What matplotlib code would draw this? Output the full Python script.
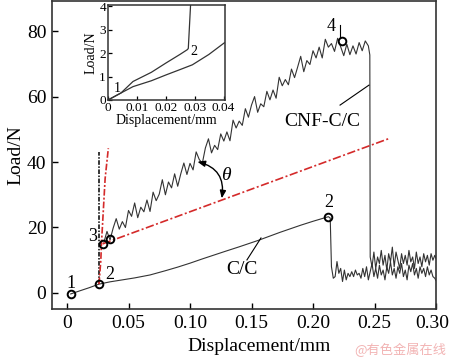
import matplotlib
matplotlib.use("Agg")
import matplotlib.pyplot as plt
import matplotlib.transforms as mtransforms

plt.rcParams["font.family"] = ["Liberation Serif", "DejaVu Serif"]

# C/C curve (rising part, then failure and residual noise)
cc_x = [0.003, 0.010, 0.018, 0.026, 0.035, 0.045, 0.055, 0.0675, 0.080, 0.090,
        0.100, 0.110, 0.1285, 0.140, 0.155, 0.173, 0.190, 0.200, 0.2125, 0.2140,
        0.2150, 0.2165, 0.2180, 0.2195, 0.2210, 0.2225, 0.2240, 0.2255, 0.2270, 0.2285,
        0.2300, 0.2315, 0.2330, 0.2345, 0.2360, 0.2375, 0.2390, 0.2405, 0.2420, 0.2435,
        0.2450, 0.2465, 0.2480, 0.2495, 0.2510, 0.2525, 0.2540, 0.2555, 0.2570, 0.2585,
        0.2600, 0.2615, 0.2630, 0.2645, 0.2660, 0.2675, 0.2690, 0.2705, 0.2720, 0.2735,
        0.2750, 0.2765, 0.2780, 0.2795, 0.2810, 0.2825, 0.2840, 0.2855, 0.2870, 0.2885,
        0.2900, 0.2915, 0.2930, 0.2945, 0.2960, 0.2975, 0.2990, 0.3000]
cc_y = [-0.3, 0.6, 1.6, 2.7, 3.4, 4.0, 4.6, 5.5, 6.8, 7.9,
        9.1, 10.4, 12.7, 14.1, 16.0, 18.5, 20.7, 21.9, 23.3, 22.9,
        8.0, 4.5, 5.0, 9.6, 6.0, 7.5, 3.5, 7.0, 4.0, 6.0,
        5.0, 6.5, 5.0, 7.0, 5.5, 6.0, 4.5, 7.5, 5.0, 8.0,
        4.0, 6.5, 9.0, 5.0, 7.5, 4.5, 8.5, 5.5, 7.0, 4.0,
        8.0, 6.0, 9.5, 5.5, 7.5, 4.5, 8.0, 6.0, 9.0, 5.0,
        7.0, 4.0, 8.5, 6.5, 9.0, 5.5, 7.5, 4.5, 8.0, 6.0,
        7.5, 5.0, 8.0, 5.5, 7.0, 5.0, 4.5, 3.8]

# CNF-C/C curve (noisy rise after the jump, failure and residual noise)
cnf_x = [0.0300, 0.0325, 0.0350, 0.0375, 0.0400, 0.0425, 0.0450, 0.0475, 0.0500, 0.0525,
         0.0550, 0.0575, 0.0600, 0.0625, 0.0650, 0.0675, 0.0700, 0.0725, 0.0750, 0.0775,
         0.0800, 0.0825, 0.0850, 0.0875, 0.0900, 0.0925, 0.0950, 0.0975, 0.1000, 0.1025,
         0.1050, 0.1075, 0.1100, 0.1125, 0.1150, 0.1175, 0.1200, 0.1225, 0.1250, 0.1275,
         0.1300, 0.1325, 0.1350, 0.1375, 0.1400, 0.1425, 0.1450, 0.1475, 0.1500, 0.1525,
         0.1550, 0.1575, 0.1600, 0.1625, 0.1650, 0.1675, 0.1700, 0.1725, 0.1750, 0.1775,
         0.1800, 0.1825, 0.1850, 0.1875, 0.1900, 0.1925, 0.1950, 0.1975, 0.2000, 0.2025,
         0.2050, 0.2075, 0.2100, 0.2125, 0.2150, 0.2175, 0.2200, 0.2225, 0.2250, 0.2275,
         0.2300, 0.2325, 0.2350, 0.2375, 0.2400, 0.2425, 0.2450, 0.2462, 0.2465, 0.2480,
         0.2495, 0.2510, 0.2525, 0.2540, 0.2555, 0.2570, 0.2585, 0.2600, 0.2615, 0.2630,
         0.2645, 0.2660, 0.2675, 0.2690, 0.2705, 0.2720, 0.2735, 0.2750, 0.2765, 0.2780,
         0.2795, 0.2810, 0.2825, 0.2840, 0.2855, 0.2870, 0.2885, 0.2900, 0.2915, 0.2930,
         0.2945, 0.2960, 0.2975, 0.2990, 0.3000]
cnf_y = [15.5, 18.8, 16.2, 19.8, 22.7, 19.5, 21.8, 20.0, 25.2, 23.4,
         27.5, 23.0, 26.2, 24.8, 28.4, 24.9, 30.8, 28.2, 30.2, 34.6,
         30.0, 33.9, 32.1, 36.4, 32.6, 36.4, 39.7, 36.2, 39.6, 37.6,
         43.1, 40.8, 39.6, 44.3, 47.1, 42.8, 45.1, 43.8, 48.6, 46.4,
         49.2, 46.5, 52.8, 50.4, 52.5, 51.2, 56.3, 53.7, 57.4, 60.0,
         55.2, 57.8, 56.9, 61.6, 59.0, 62.0, 59.5, 65.9, 63.3, 65.2,
         63.6, 68.4, 65.8, 69.0, 72.3, 67.6, 71.0, 69.8, 74.0, 71.8,
         75.1, 71.8, 77.5, 75.1, 76.2, 73.8, 77.8, 75.2, 72.5, 76.0,
         72.8, 75.5, 73.0, 76.5, 74.0, 77.0, 75.5, 72.7, 11.0, 8.0,
         12.5, 7.5, 11.0, 9.0, 13.0, 8.5, 11.5, 7.0, 12.0, 9.5,
         14.0, 8.0, 12.5, 10.0, 7.5, 12.0, 9.0, 11.5, 8.5, 13.0,
         9.5, 11.0, 7.5, 12.5, 9.0, 11.0, 8.0, 12.0, 9.5, 11.5,
         8.5, 12.0, 10.0, 11.5, 10.5]

# construction lines
black_vert_x = [0.026, 0.026]
black_vert_y = [2.7, 43.0]
red_vert_x = [0.026, 0.0275, 0.028, 0.0295, 0.031, 0.0336]
red_vert_y = [2.7, 10.0, 15.0, 25.0, 35.0, 44.2]
red_slope_x = [0.029, 0.262]
red_slope_y = [15.0, 47.2]

# marked points
mark_x = [0.003, 0.026, 0.029, 0.035, 0.2233, 0.2125]
mark_y = [-0.4, 2.7, 15.0, 16.4, 77.0, 23.3]

# inset curves
in_cnf_x = [0.0, 0.0045, 0.00866, 0.0150, 0.0201, 0.0250, 0.0275, 0.0278, 0.0286]
in_cnf_y = [0.0, 0.30, 0.79, 1.18, 1.58, 1.95, 2.15, 2.20, 4.10]
in_cc_x = [0.0, 0.0045, 0.00866, 0.0150, 0.0201, 0.0250, 0.0292, 0.0349, 0.0403]
in_cc_y = [0.0, 0.30, 0.57, 0.82, 1.07, 1.30, 1.50, 1.94, 2.44]

fig = plt.figure(figsize=(4.5, 3.57), dpi=100)
ax = fig.add_axes([52 / 450, 48 / 357, 384 / 450, 308 / 357])

ax.plot(cc_x, cc_y, color="#333333", lw=0.8)
ax.plot(cnf_x, cnf_y, color="#333333", lw=0.8)
ax.plot(black_vert_x, black_vert_y, color="black", lw=1.1, dashes=(3, 1, 1, 1))
ax.plot(red_vert_x, red_vert_y, color="#d42a2a", lw=1.2, dashes=(4, 1.2, 1.2, 1.2))
ax.plot(red_slope_x, red_slope_y, color="#d42a2a", lw=1.2, dashes=(5, 1.5, 1.2, 1.5))
ax.plot(mark_x, mark_y, ls="none", marker="o", ms=5.5, mfc="none", mec="black", mew=1.4)

ax.set_xlim(-0.0122, 0.30)
ax.set_ylim(-4.9, 89.2)
ax.set_xticks([0, 0.05, 0.10, 0.15, 0.20, 0.25, 0.30])
ax.set_xticklabels(["0", "0.05", "0.10", "0.15", "0.20", "0.25", "0.30"])
ax.set_yticks([0, 20, 40, 60, 80])
ax.tick_params(direction="in", length=4, width=1, labelsize=14, pad=4)
# last label sits a little left of its tick, as in the original
last = ax.get_xticklabels()[-1]
last.set_transform(last.get_transform() +
                   mtransforms.ScaledTranslation(-4 / 100, 0, fig.dpi_scale_trans))
for s in ax.spines.values():
    s.set_linewidth(1.2)
    s.set_color("#333333")
ax.set_xlabel("Displacement/mm", fontsize=14, labelpad=2)
ax.xaxis.set_label_coords(0.54, -0.095)
ax.set_ylabel("Load/N", fontsize=14, labelpad=2)

txt = dict(fontsize=13, color="black", ha="center", va="center")
ax.text(0.003, 3.0, "1", **txt)
ax.text(0.035, 5.5, "2", **txt)
ax.text(0.021, 17.1, "3", **txt)
ax.text(0.215, 81.5, "4", **txt)
ax.text(0.2125, 27.6, "2", **txt)
ax.text(0.2077, 52.5, "CNF-C/C", fontsize=14, ha="center", va="center")
ax.text(0.142, 7.3, "C/C", fontsize=14, ha="center", va="center")
ax.text(0.129, 36.0, "θ", fontsize=14, style="italic", ha="center", va="center")

ax.plot([0.222, 0.222], [81.8, 77.9], color="black", lw=0.8)
ax.plot([0.222, 0.2455], [57.4, 63.5], color="black", lw=0.8)
ax.plot([0.1463, 0.1577], [10.1, 16.8], color="black", lw=0.8)

ax.annotate("", xy=(0.1258, 28.9), xytext=(0.106, 40.1),
            arrowprops=dict(arrowstyle="<|-|>,head_length=0.45,head_width=0.18",
                            connectionstyle="arc3,rad=-0.45", color="black", lw=1.0,
                            shrinkA=0, shrinkB=0))

# inset
ins = fig.add_axes([108 / 450, 257 / 357, 117 / 450, 95 / 357])
ins.plot(in_cnf_x, in_cnf_y, color="#333333", lw=0.9)
ins.plot(in_cc_x, in_cc_y, color="#333333", lw=0.9)
ins.set_xlim(0, 0.0405)
ins.set_ylim(0, 4.05)
ins.set_xticks([0, 0.01, 0.02, 0.03, 0.04])
ins.set_xticklabels(["0", "0.01", "0.02", "0.03", "0.04"])
ins.set_yticks([0, 1, 2, 3, 4])
ins.tick_params(direction="in", length=3, width=0.9, labelsize=9.5, pad=1.5)
for s in ins.spines.values():
    s.set_linewidth(1.1)
    s.set_color("#333333")
ins.set_xlabel("Displacement/mm", fontsize=10, labelpad=0)
ins.set_ylabel("Load/N", fontsize=10, labelpad=1)
ins.text(0.0032, 0.5, "1", fontsize=10, ha="center", va="center")
ins.text(0.0296, 2.08, "2", fontsize=10, ha="center", va="center")

fig.text(400 / 450, 1 - 350 / 357, "@有色金属在线", fontsize=9.5, color="#f2b4b4",
         ha="center", va="center", family=["Noto Sans CJK SC", "DejaVu Sans"])

fig.savefig("out.png", dpi=100)
